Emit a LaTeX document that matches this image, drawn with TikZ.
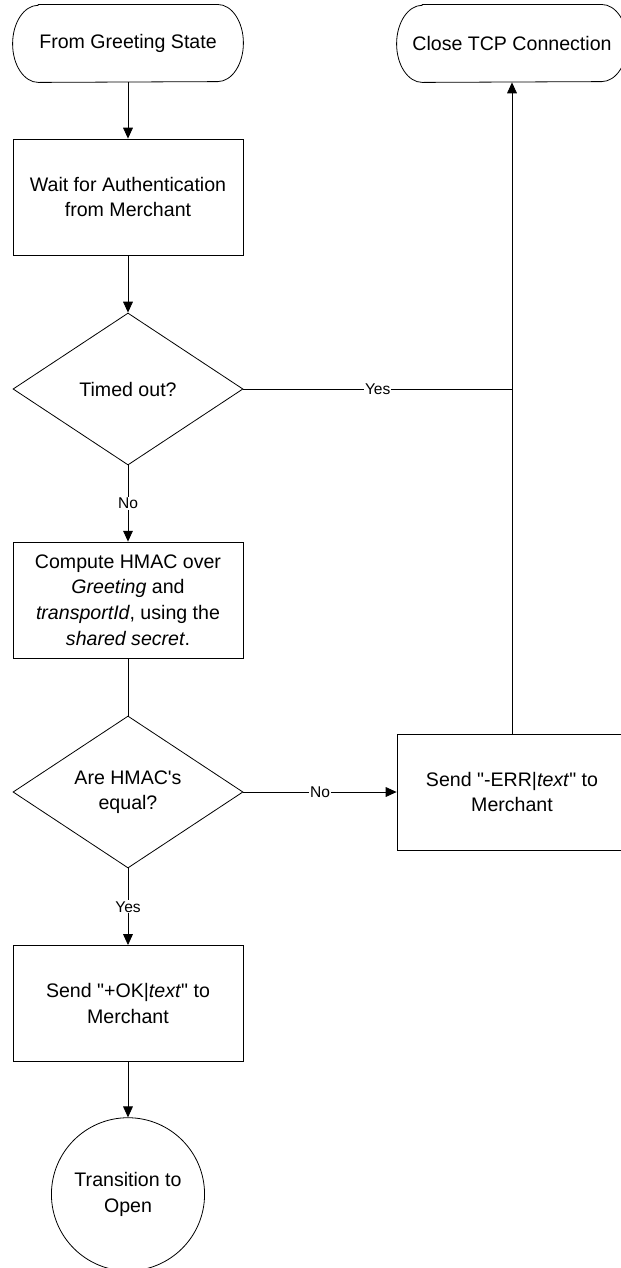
\documentclass[tikz,border=0pt]{standalone}
\usepackage{fontspec}
\setmainfont{Liberation Sans}
\usetikzlibrary{arrows.meta,shapes.geometric}
\begin{document}
\begin{tikzpicture}[
  line width=.8pt,
  box/.style={draw,align=center,inner sep=0pt,
    font=\fontsize{19.5}{25.4}\selectfont,
    minimum width=8.05cm,minimum height=4.06cm},
  term/.style={box,draw=none,minimum height=2.7cm},
  decide/.style={box,diamond,aspect=1.5,minimum height=5.32cm},
  finish/.style={box,circle,minimum size=5.36cm},
  lbl/.style={fill=white,inner sep=1pt,font=\fontsize{15.5}{18}\selectfont},
  flow/.style={-{Triangle[length=3.8mm,width=3.4mm]}}]
\useasboundingbox (0,0) rectangle (21.735,-44.38);
\clip (0,0) rectangle (21.735,-44.38);
\node[term] (start) at (4.48,-1.52) {From Greeting State};
\node[term] (close) at (17.92,-1.52) {Close TCP Connection};
\node[box] (wait) at (4.48,-6.895) {Wait for Authentication\\from Merchant};
\node[decide] (timeout) at (4.48,-13.615) {Timed out?};
\node[box] (hmac) at (4.48,-21.0)
  {Compute HMAC over\\\textit{Greeting} and\\
  \textit{transportId}, using the\\\textit{shared secret}.};
\node[decide] (equal) at (4.48,-27.72) {Are HMAC\textquotesingle s\\equal?};
\node[box] (err) at (17.92,-27.72)
  {Send \textquotedbl-ERR|\textit{text}\textquotedbl{} to\\Merchant};
\node[box] (ok) at (4.48,-35.12)
  {Send \textquotedbl+OK|\textit{text}\textquotedbl{} to\\Merchant};
\node[finish] (open) at (4.48,-41.8) {Transition to\\Open};
% terminator outlines with elliptic ends
\foreach \t in {start,close}
  \draw ([xshift=.9cm]\t.north west) -- ([xshift=-.9cm]\t.north east)
    arc[start angle=90,end angle=-90,x radius=.9cm,y radius=1.35cm]
    -- ([xshift=.9cm]\t.south west)
    arc[start angle=270,end angle=90,x radius=.9cm,y radius=1.35cm] -- cycle;
\draw[flow] (start) -- (wait);
\draw[flow] (wait) -- (timeout);
\draw[flow] (timeout) -- node[lbl] {No} (hmac);
\draw (hmac) -- (equal);
\draw[flow] (equal) -- node[lbl] {Yes} (ok);
\draw[flow] (ok) -- (open);
\draw[flow] (equal) -- node[lbl] {No} (err);
\draw (timeout.east) -- node[lbl] {Yes} (timeout -| err.north);
\draw[flow] (err) -- (close);
\end{tikzpicture}
\end{document}
